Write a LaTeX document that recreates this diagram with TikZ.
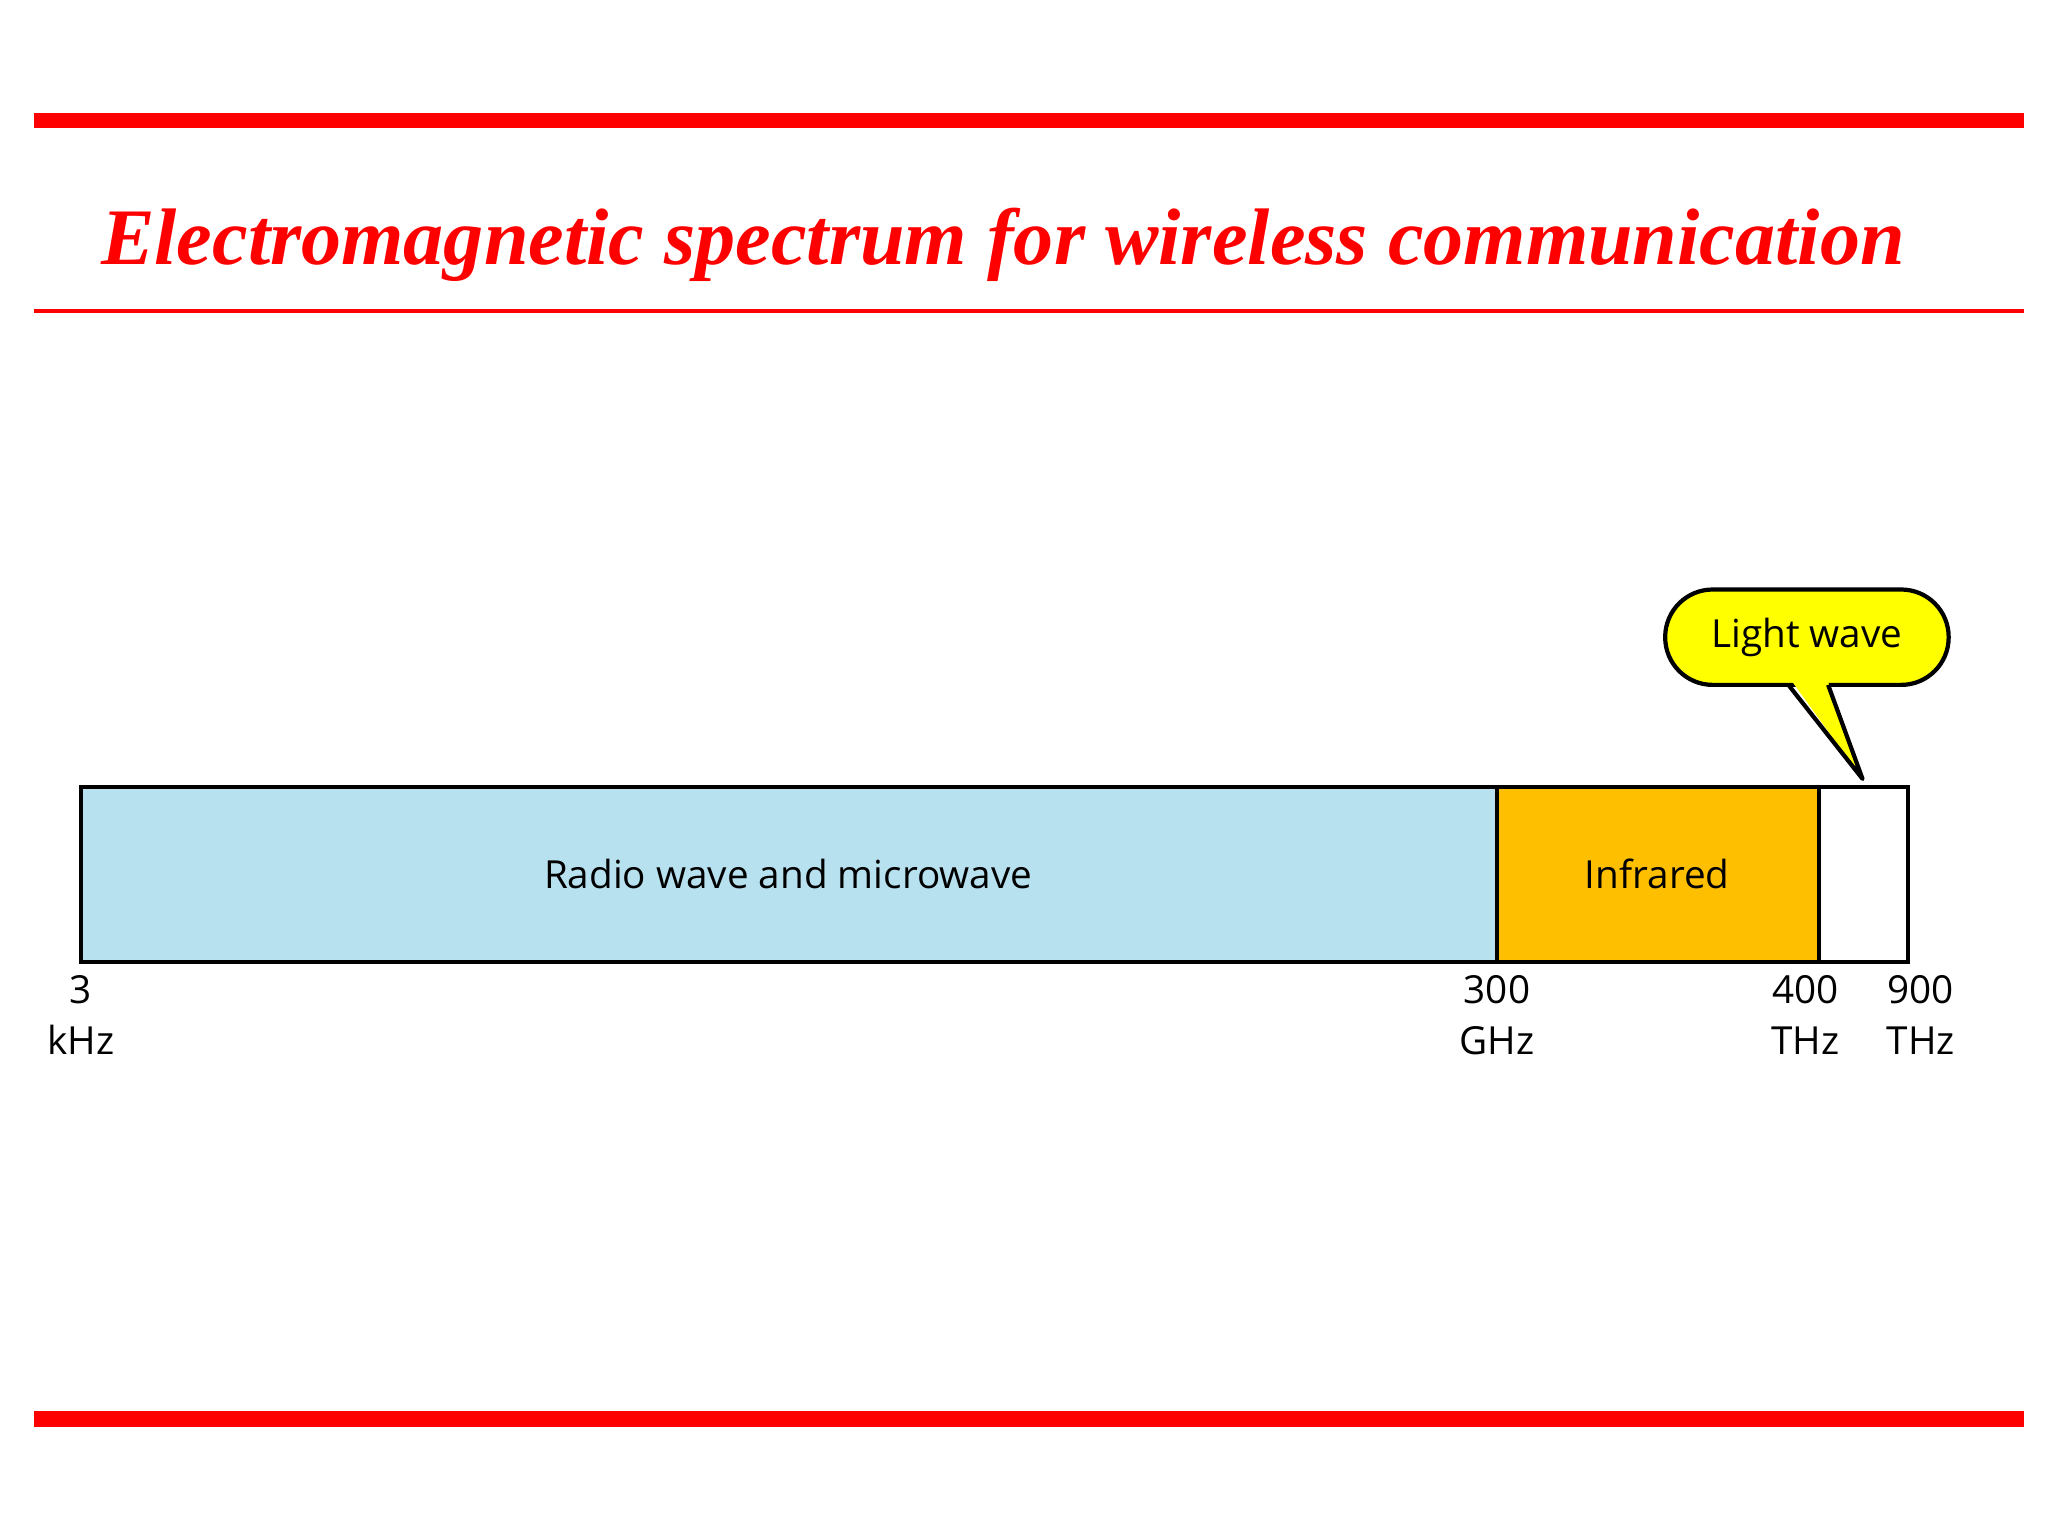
\documentclass[tikz,border=0pt]{standalone}
\usepackage{fontspec}
\setmainfont{Open Sans}
\newfontfamily\titlefont{Liberation Serif}
\definecolor{radioblue}{HTML}{B7E1EE}
\definecolor{iror}{HTML}{FDBF00}
\definecolor{callyel}{HTML}{FFFF00}
\begin{document}
\begin{tikzpicture}[x=0.013247cm,y=-0.013247cm,
  lbl/.style={font=\fontsize{11}{14.5}\selectfont,align=center,anchor=north,inner sep=0pt}]
\useasboundingbox (0,0) rectangle (1546,1160);
\fill[red] (26,85) rectangle (1528,97);
\fill[red] (26,233) rectangle (1528,236);
\fill[red] (26,1065) rectangle (1528,1077);
\node[text=red,font=\titlefont\bfseries\itshape\fontsize{22.8}{27}\selectfont,anchor=base] (title) at (757,200) {Electromagnetic spectrum for wireless communication};
\fill[radioblue] (61,594) rectangle (1130,726);
\fill[iror] (1130,594) rectangle (1373,726);
\draw[line width=1.2pt] (61,594) rectangle (1440,726);
\draw[line width=1.2pt] (1130,594) -- (1130,726);
\draw[line width=1.2pt] (1373,594) -- (1373,726);
\node[font=\fontsize{11}{13}\selectfont] (rtext) at (595,660) {Radio wave and microwave};
\node[font=\fontsize{11}{13}\selectfont] (itext) at (1251,660) {Infrared};
\node[lbl] (l3) at (61,736) {3\\kHz};
\node[lbl] (l300) at (1130,736) {300\\GHz};
\node[lbl] (l400) at (1363,736) {400\\THz};
\node[lbl] (l900) at (1450,736) {900\\THz};
\draw[line width=1.2pt,fill=callyel,rounded corners=13.5pt] (1257,445) rectangle (1471,517);
\fill[callyel] (1351,512) -- (1406,588) -- (1379,512) -- cycle;
\draw[line width=1.2pt,line join=round] (1350,517) -- (1406,588) -- (1380,517);
\node[font=\fontsize{11}{13}\selectfont] (light) at (1364,481) {Light wave};
\end{tikzpicture}
\end{document}
